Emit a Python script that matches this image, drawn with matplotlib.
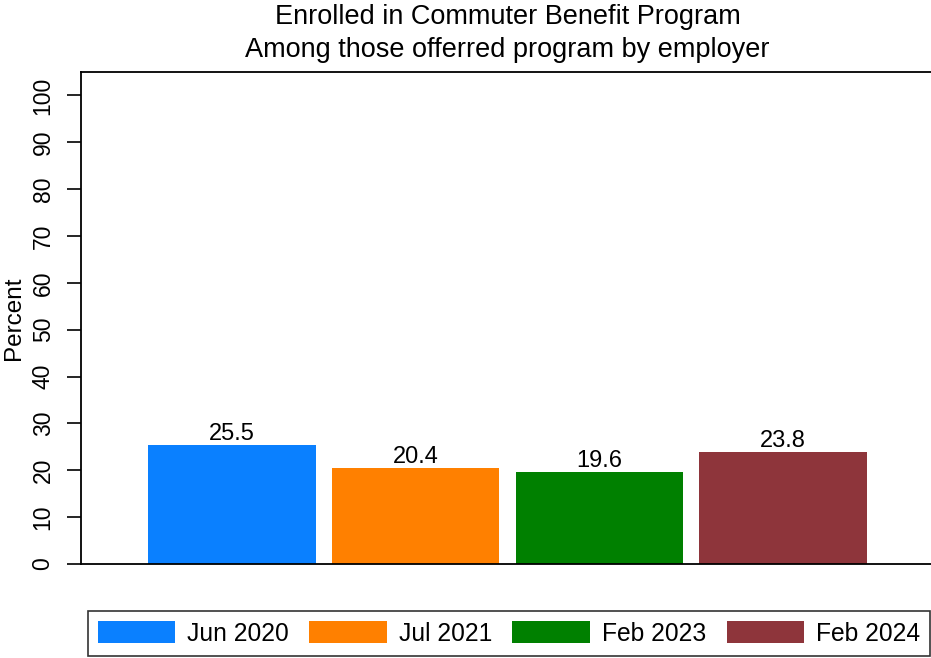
import numpy as np
import matplotlib.pyplot as plt

plt.rcParams['font.family'] = ['Liberation Sans', 'DejaVu Sans']

# data
waves = ["Jun 2020", "Jul 2021", "Feb 2023", "Feb 2024"]
enrolled = [25.5, 20.4, 19.6, 23.8]
colors = ["#0a80ff", "#ff8000", "#008000", "#8e353b"]
yticks = [0, 10, 20, 30, 40, 50, 60, 70, 80, 90, 100]

W, H = 931, 658
fig = plt.figure(figsize=(W / 100, H / 100), dpi=100)
# axes box in pixels: left 81, right ~934 (cut off), top 72, bottom 564
ax = fig.add_axes([81 / W, 1 - 564 / H, (934 - 81) / W, (564 - 72) / H])

x = np.arange(len(waves))
bars = ax.bar(x, enrolled, width=0.9126, color=colors, label=waves)
ax.bar_label(bars, labels=[f"{v:.1f}" for v in enrolled], padding=0, fontsize=17)

ax.set_xlim(-0.822, 3.822)
ax.set_ylim(0, 105)
ax.set_xticks([])
ax.set_yticks(yticks)
ax.set_yticklabels([str(t) for t in yticks], rotation=90, va='center', fontsize=16.5)
ax.tick_params(axis='y', length=10, width=1.2, pad=9)
for s in ax.spines.values():
    s.set_linewidth(1.3)

# y label: right side of the rotated text sits ~24px from the left edge
ax.set_ylabel("Percent", fontsize=17.5)
ax.yaxis.set_label_coords((25 - 81) / 853, 0.5)

# title centred over the plot region
cx = (81 + 934) / 2 / W
fig.text(cx, 1 - 17 / H, "Enrolled in Commuter Benefit Program", ha='center', va='center', fontsize=19.5)
fig.text(cx, 1 - 50 / H, "Among those offerred program by employer", ha='center', va='center', fontsize=19.5)

leg = fig.legend(handles=list(bars), labels=waves, ncol=4, loc='center',
                 bbox_to_anchor=(509 / W, 1 - 633.5 / H), fontsize=17.7,
                 handlelength=3.15, handleheight=1.0, handletextpad=0.5,
                 columnspacing=0.82, borderpad=0.4, borderaxespad=0,
                 fancybox=False, frameon=True, edgecolor='black')
leg.get_frame().set_linewidth(1.2)

fig.savefig("out.png", dpi=100)
